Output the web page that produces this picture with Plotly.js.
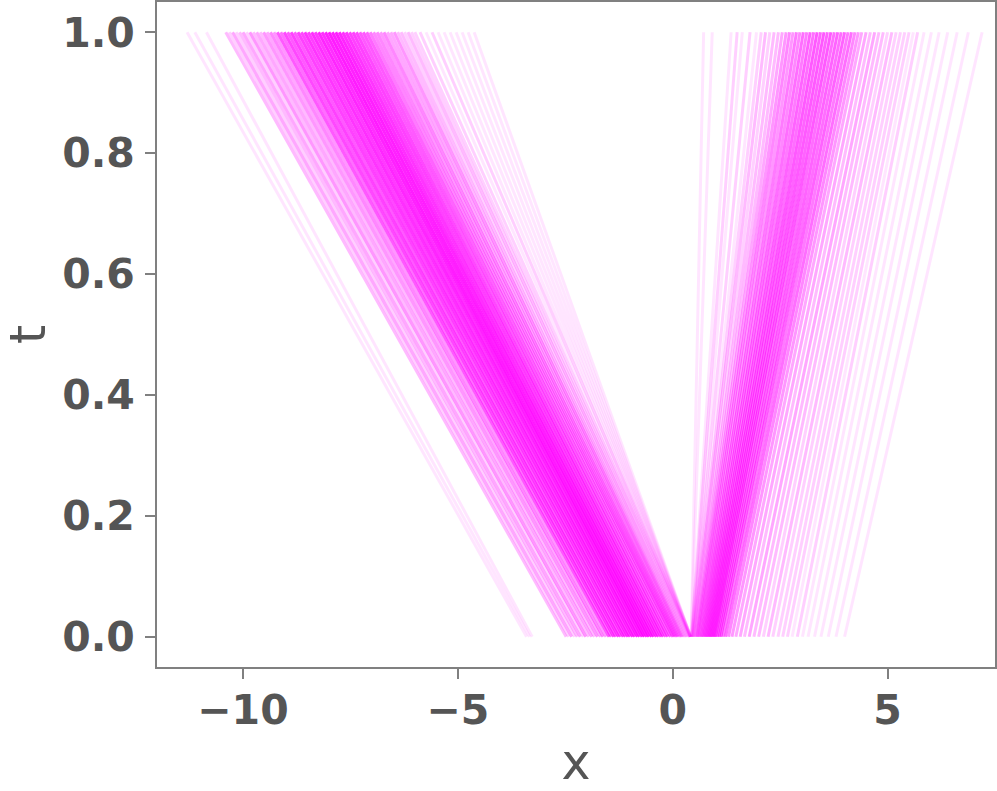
<!DOCTYPE html>
<html>
<head>
<meta charset="utf-8">
<script src="https://cdn.plot.ly/plotly-3.0.1.min.js"></script>
<style>
  html, body { margin: 0; padding: 0; background: #fff; }
  #chart { width: 997px; height: 791px; }
</style>
</head>
<body>
<div id="chart"></div>
<script>
// time levels of every path: start and end
const tLevels = [0, 1];

// left-moving paths: position at t=0, position at t=1, number of samples on that path
const leftStart = [
  -3.40, -3.33, -3.27,
  -2.48, -2.42, -2.35, -2.28, -2.22, -2.15, -2.08, -2.02, -1.95, -1.88, -1.82, -1.75, -1.68, -1.62, -1.55,
  -1.48, -1.43, -1.37, -1.32, -1.26, -1.21, -1.15, -1.10, -1.04, -0.99, -0.93, -0.88, -0.82, -0.77,
  -0.71, -0.66, -0.60, -0.55, -0.49, -0.44, -0.38, -0.33, -0.27, -0.22, -0.16, -0.11, -0.05,
  0.00, 0.03, 0.06, 0.09, 0.12, 0.15, 0.18, 0.21, 0.24, 0.27, 0.30, 0.33, 0.36, 0.39,
  0.40, 0.41, 0.41, 0.41, 0.42, 0.42, 0.42, 0.42, 0.42, 0.42
];
const leftEnd = [
  -11.30, -11.12, -10.85,
  -10.40, -10.32, -10.24, -10.16, -10.08, -10.00, -9.92, -9.84, -9.76, -9.68, -9.60, -9.52, -9.44, -9.36, -9.28,
  -9.20, -9.12, -9.04, -8.96, -8.88, -8.80, -8.72, -8.64, -8.56, -8.48, -8.40, -8.32, -8.24, -8.16,
  -8.08, -8.00, -7.92, -7.84, -7.76, -7.68, -7.60, -7.52, -7.44, -7.36, -7.28, -7.20, -7.12,
  -7.04, -6.96, -6.88, -6.80, -6.72, -6.64, -6.56, -6.48, -6.40, -6.32, -6.24, -6.16, -6.08, -6.00,
  -5.88, -5.74, -5.60, -5.46, -5.32, -5.18, -5.04, -4.90, -4.76, -4.62
];
const leftCount = [
  1, 1, 1,
  3, 2, 4, 2, 3, 4, 2, 5, 3, 4, 3, 5, 4, 6, 5,
  10, 8, 12, 10, 13, 10, 13, 12, 15, 13, 16, 14, 18, 16,
  19, 21, 19, 20, 18, 16, 15, 13, 13, 12, 10, 10, 9,
  7, 6, 6, 5, 6, 4, 4, 5, 3, 3, 2, 3, 2, 2,
  2, 1, 2, 1, 1, 1, 1, 1, 1, 1
];

// right-moving paths
const rightStart = [
  0.43, 0.43, 0.44, 0.44, 0.45, 0.45, 0.46, 0.47,
  0.48, 0.50, 0.52, 0.54, 0.56,
  0.58, 0.61, 0.64, 0.67, 0.70, 0.73, 0.76, 0.79, 0.82, 0.85, 0.88,
  0.91, 0.94, 0.97, 1.00, 1.04, 1.08, 1.12, 1.17, 1.23, 1.30, 1.38,
  1.47, 1.57, 1.67, 1.78, 1.89, 2.00, 2.11, 2.22, 2.33, 2.45, 2.56, 2.67, 2.78, 2.90,
  3.02, 3.15, 3.30, 3.45, 3.62, 3.80, 4.00
];
const rightEnd = [
  0.72, 0.92, 1.36, 1.50, 1.62, 1.80, 1.95, 2.06,
  2.16, 2.26, 2.36, 2.46, 2.55,
  2.64, 2.72, 2.80, 2.88, 2.96, 3.04, 3.12, 3.20, 3.28, 3.36, 3.44,
  3.52, 3.60, 3.68, 3.76, 3.84, 3.92, 4.00, 4.08, 4.16, 4.24, 4.32,
  4.40, 4.50, 4.60, 4.70, 4.80, 4.90, 5.00, 5.10, 5.20, 5.30, 5.40, 5.50, 5.60, 5.70,
  5.85, 6.02, 6.20, 6.40, 6.62, 6.88, 7.20
];
const rightCount = [
  1, 1, 1, 2, 1, 2, 1, 2,
  3, 2, 3, 3, 4,
  5, 6, 5, 7, 6, 8, 7, 9, 8, 10, 9,
  10, 9, 10, 8, 9, 8, 9, 7, 8, 6, 5,
  4, 4, 3, 4, 3, 3, 2, 3, 2, 2, 2, 2, 1, 2,
  1, 1, 1, 1, 1, 1, 1
];

const xTicks = [-10, -5, 0, 5];
const tTicks = [0, 0.2, 0.4, 0.6, 0.8, 1.0];

// each sample is drawn at alpha 0.1, so stacked samples add up
const sampleAlpha = 0.1;
const pathTrace = (x0, x1, n) => ({
  type: 'scatter',
  mode: 'lines',
  x: [x0, x1],
  y: tLevels,
  line: {
    width: 3,
    color: `rgba(255,0,255,${(1 - Math.pow(1 - sampleAlpha, n)).toFixed(3)})`,
  },
  hoverinfo: 'skip',
  showlegend: false,
});

const traces = [];
leftStart.forEach((x0, i) => traces.push(pathTrace(x0, leftEnd[i], leftCount[i])));
rightStart.forEach((x0, i) => traces.push(pathTrace(x0, rightEnd[i], rightCount[i])));

const tickFont = {family: 'DejaVu Sans', size: 41, color: '#555555', weight: 'bold'};
const titleFont = {family: 'DejaVu Sans', size: 49, color: '#555555'};

const axisCommon = {
  showgrid: false,
  zeroline: false,
  showline: true,
  mirror: true,
  linecolor: '#808080',
  linewidth: 2,
  ticks: 'outside',
  ticklen: 10,
  tickwidth: 2,
  tickcolor: '#808080',
  tickfont: tickFont,
};

const layout = {
  width: 997,
  height: 791,
  margin: {l: 157, r: 2, t: 2, b: 124},
  paper_bgcolor: '#ffffff',
  plot_bgcolor: '#ffffff',
  xaxis: Object.assign({}, axisCommon, {
    range: [-12, 7.5],
    tickvals: xTicks,
    ticktext: xTicks.map((v) => String(v).replace('-', '\u2212')),
    ticklabelstandoff: -4,
    title: {text: 'x', font: titleFont, standoff: 16},
  }),
  yaxis: Object.assign({}, axisCommon, {
    range: [-0.05, 1.05],
    tickvals: tTicks,
    ticktext: tTicks.map((v) => v.toFixed(1)),
    ticklabelstandoff: 2,
    title: {text: 't', font: titleFont, standoff: 20},
  }),
};

Plotly.newPlot(document.getElementById('chart'), traces, layout, {staticPlot: true, displayModeBar: false});
</script>
</body>
</html>
